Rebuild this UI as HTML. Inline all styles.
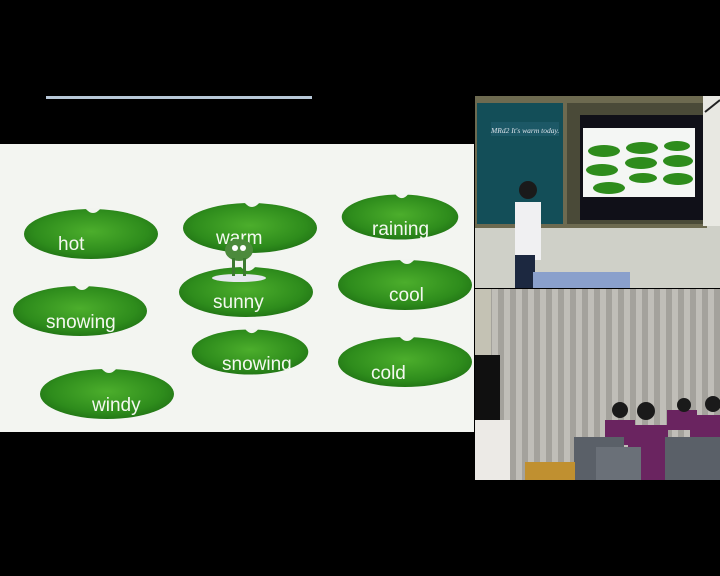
<!DOCTYPE html>
<html><head><style>
html,body{margin:0;padding:0;background:#000;}
body{width:720px;height:576px;position:relative;overflow:hidden;}
.a{position:absolute;}
</style></head><body>
<div class="a" style="left:46px;top:96px;width:266px;height:3px;background:#b8c8d8;"></div>
<svg class="a" style="left:0;top:0" width="720" height="576">
<defs>
<radialGradient id="g" cx="50%" cy="45%" r="60%"><stop offset="0" stop-color="#4cae2c"/><stop offset="0.7" stop-color="#2e8c1c"/><stop offset="1" stop-color="#1f7014"/></radialGradient>
<g id="leaf"><ellipse cx="0" cy="0" rx="67" ry="25" fill="url(#g)"/><path d="M-6,-26 Q2,-16 10,-26 Z" fill="#f2f4f0"/></g>
<pattern id="cur" width="12" height="10" patternUnits="userSpaceOnUse"><rect width="12" height="10" fill="#a4a29c"/><rect width="6" height="10" fill="#c0beb8"/></pattern>
</defs>
<rect x="0" y="144" width="474" height="288" fill="#f3f5f1"/>
<g font-family="'Comic Sans MS','Liberation Sans',sans-serif" font-size="19" fill="#f4f8f0">
<use href="#leaf" transform="translate(91,234)"/>
<use href="#leaf" transform="translate(250,228)"/>
<use href="#leaf" transform="translate(400,217) scale(0.87,0.9)"/>
<use href="#leaf" transform="translate(80,311)"/>
<use href="#leaf" transform="translate(246,292)"/>
<use href="#leaf" transform="translate(405,285)"/>
<use href="#leaf" transform="translate(250,352) scale(0.87,0.9)"/>
<use href="#leaf" transform="translate(405,362)"/>
<use href="#leaf" transform="translate(107,394)"/>
<text x="58" y="250">hot</text>
<text x="216" y="244">warm</text>
<text x="372" y="235">raining</text>
<text x="46" y="328">snowing</text>
<text x="213" y="308">sunny</text>
<text x="389" y="301">cool</text>
<text x="222" y="370">snowing</text>
<text x="371" y="379">cold</text>
<text x="92" y="411">windy</text>
</g>
<ellipse cx="239" cy="278" rx="27" ry="4" fill="#e6e8ee"/>
<ellipse cx="239" cy="250" rx="14" ry="11" fill="#4c8a3c"/>
<circle cx="235" cy="248" r="3" fill="#fff"/><circle cx="243" cy="248" r="3" fill="#fff"/>
<rect x="232" y="258" width="3" height="18" fill="#3c7a30"/><rect x="243" y="258" width="3" height="18" fill="#3c7a30"/>
<!-- top video -->
<rect x="475" y="96" width="245" height="192" fill="#cfd0c8"/>
<rect x="475" y="96" width="232" height="132" fill="#6d6a50"/>
<rect x="477" y="103" width="86" height="121" fill="#134e58"/>
<rect x="491" y="122" width="68" height="14" fill="#1c5866"/>
<text x="491" y="133" font-family="Liberation Serif,serif" font-size="7.5" fill="#d8e0e8" font-style="italic">MRd2 It's warm today.</text>
<rect x="567" y="103" width="136" height="121" fill="#4a4a38"/>
<rect x="580" y="115" width="123" height="105" fill="#101018"/>
<rect x="583" y="128" width="112" height="69" fill="#f4f6f4"/>
<g fill="#2e8c1c"><ellipse cx="604" cy="151" rx="16" ry="6"/><ellipse cx="642" cy="148" rx="16" ry="6"/><ellipse cx="677" cy="146" rx="13" ry="5"/><ellipse cx="602" cy="170" rx="16" ry="6"/><ellipse cx="641" cy="163" rx="16" ry="6"/><ellipse cx="678" cy="161" rx="15" ry="6"/><ellipse cx="643" cy="178" rx="14" ry="5"/><ellipse cx="678" cy="179" rx="15" ry="6"/><ellipse cx="609" cy="188" rx="16" ry="6"/></g>
<rect x="703" y="96" width="17" height="130" fill="#e8e8e2"/>
<path d="M705,112 L720,100" stroke="#222" stroke-width="2"/>
<rect x="515" y="202" width="26" height="58" fill="#f0f0f2"/>
<circle cx="528" cy="190" r="9" fill="#1a1a1a"/>
<rect x="515" y="255" width="20" height="33" fill="#1c2840"/>
<rect x="533" y="272" width="97" height="16" fill="#8aa0cc"/>
<!-- bottom video -->
<rect x="475" y="289" width="245" height="191" fill="#c4c2b4"/>
<rect x="491" y="289" width="229" height="191" fill="url(#cur)"/>
<rect x="475" y="355" width="25" height="125" fill="#101010"/>
<rect x="475" y="420" width="35" height="60" fill="#eceae6"/>
<g fill="#6a2460"><rect x="605" y="420" width="30" height="25"/><rect x="628" y="425" width="40" height="55"/><rect x="667" y="410" width="30" height="20"/><rect x="690" y="415" width="30" height="40"/></g>
<g fill="#1a1a1a"><circle cx="620" cy="410" r="8"/><circle cx="646" cy="411" r="9"/><circle cx="684" cy="405" r="7"/><circle cx="713" cy="404" r="8"/></g>
<rect x="574" y="437" width="50" height="43" fill="#5a6068"/>
<rect x="596" y="447" width="45" height="33" fill="#6a7078"/>
<rect x="665" y="437" width="55" height="43" fill="#5a6068"/>
<rect x="525" y="462" width="50" height="18" fill="#c09030"/>
</svg>
</body></html>
